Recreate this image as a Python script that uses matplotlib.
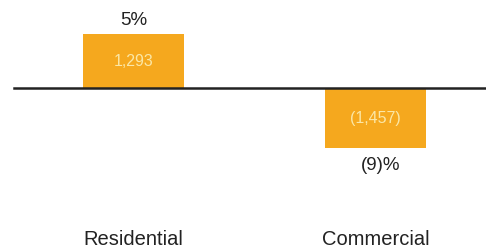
import matplotlib.pyplot as plt

plt.rcParams['font.family'] = ['Liberation Sans', 'DejaVu Sans']

categories = ['Residential', 'Commercial']
values = [1293, -1457]
value_labels = ['1,293', '(1,457)']
pct_labels = ['5%', '(9)%']

bar_color = '#F5A81E'
inner_color = '#FBE7A6'

fig = plt.figure(figsize=(4.86, 2.49), dpi=100)
ax = fig.add_axes([0, 0, 1, 1])

x = [0, 1]
ax.bar(x, values, width=0.417, color=bar_color)
ax.axhline(0, xmin=14 / 486, xmax=1, color='#222222', linewidth=1.8)

for xi, v, vl, pl in zip(x, values, value_labels, pct_labels):
    ax.text(xi, v / 2, vl, ha='center', va='center', color=inner_color, fontsize=11.5)
    if v > 0:
        ax.annotate(pl, (xi, v), xytext=(0, 4), textcoords='offset points',
                    ha='center', va='bottom', fontsize=13.5, color='#222222')
    else:
        ax.annotate(pl, (xi + 0.02, v), xytext=(0, -6), textcoords='offset points',
                    ha='center', va='top', fontsize=13.5, color='#222222')

for xi, c in zip(x, categories):
    ax.text(xi, -3671, c, ha='center', va='center', fontsize=14.5, color='#222222')

ax.set_xlim(-0.552, 1.457)
ax.set_ylim(-3889, 2126)
ax.axis('off')

fig.savefig('out.png', dpi=100)
